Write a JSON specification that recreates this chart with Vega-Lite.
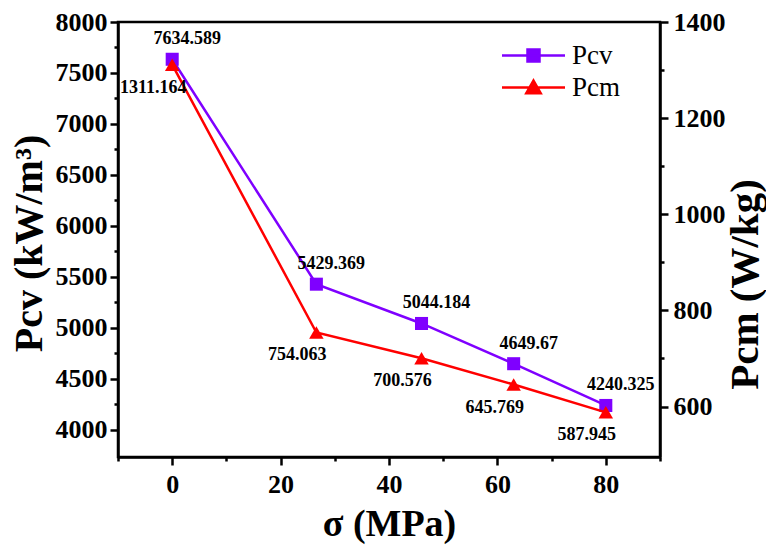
{
  "$schema": "https://vega.github.io/schema/vega-lite/v6.json",
  "width": 542,
  "height": 435,
  "autosize": {"type": "none"},
  "padding": {"left": 118, "top": 22, "right": 106, "bottom": 95},
  "background": "white",
  "config": {
    "view": {"stroke": "black", "strokeWidth": 2.5},
    "axis": {
      "domainColor": "black", "domainWidth": 2.5,
      "tickColor": "black", "tickWidth": 2.5,
      "labelFont": "Liberation Serif", "labelFontSize": 26, "labelFontWeight": "bold", "labelColor": "black",
      "titleFont": "Liberation Serif", "titleFontWeight": "bold", "titleColor": "black",
      "grid": false, "labelOverlap": false, "labelBound": false, "labelFlush": false
    }
  },
  "data": {
    "values": [
      {"sigma": 0, "series": "Pcv", "value": 7634.589},
      {"sigma": 26.6, "series": "Pcv", "value": 5429.369},
      {"sigma": 46, "series": "Pcv", "value": 5044.184},
      {"sigma": 63, "series": "Pcv", "value": 4649.67},
      {"sigma": 80, "series": "Pcv", "value": 4240.325},
      {"sigma": 0, "series": "Pcm", "value": 1311.164},
      {"sigma": 26.6, "series": "Pcm", "value": 754.063},
      {"sigma": 46, "series": "Pcm", "value": 700.576},
      {"sigma": 63, "series": "Pcm", "value": 645.769},
      {"sigma": 80, "series": "Pcm", "value": 587.945}
    ]
  },
  "encoding": {
    "x": {
      "field": "sigma", "type": "quantitative",
      "scale": {"domain": [-10, 90], "nice": false, "zero": false},
      "axis": {
        "title": "σ (MPa)", "titleFontSize": 38, "titlePadding": 8,
        "values": [-10, 0, 10, 20, 30, 40, 50, 60, 70, 80, 90],
        "labelExpr": "datum.value % 20 === 0 ? datum.label : ''",
        "tickSize": {"condition": {"test": "datum.value % 20 !== 0", "value": 4}, "value": 8},
        "labelPadding": 6
      }
    }
  },
  "layer": [
    {
      "transform": [{"filter": "datum.series === 'Pcv'"}],
      "encoding": {
        "y": {
          "field": "value", "type": "quantitative",
          "scale": {"domain": [3735, 8000], "nice": false, "zero": false},
          "axis": {
            "orient": "left", "title": "Pcv (kW/m³)", "titleFontSize": 40, "titlePadding": 6, "titleY": 221,
            "values": [4000, 4250, 4500, 4750, 5000, 5250, 5500, 5750, 6000, 6250, 6500, 6750, 7000, 7250, 7500, 7750, 8000],
            "format": "d",
            "labelExpr": "datum.value % 500 === 0 ? datum.label : ''",
            "tickSize": {"condition": {"test": "datum.value % 500 !== 0", "value": 4}, "value": 8},
            "labelPadding": 3
          }
        },
        "color": {
          "field": "series", "type": "nominal",
          "scale": {"domain": ["Pcv", "Pcm"], "range": ["#7F00FF", "#FF0000"]},
          "legend": {
            "orient": "none", "legendX": 402, "legendY": 20, "title": null,
            "labelFont": "Liberation Serif", "labelFontSize": 27, "labelFontWeight": "normal", "labelColor": "black",
            "symbolSize": 144, "labelOffset": 25, "rowPadding": 4,
            "encode": {
              "symbols": {
                "update": {
                  "shape": {"signal": "datum.value === 'Pcv' ? 'M-5.25,0H5.25M-1,-1H1V1H-1Z' : 'M-5.25,0H5.25M0,-1.15L1.2,0.95H-1.2Z'"},
                  "fill": {"signal": "datum.value === 'Pcv' ? '#7F00FF' : '#FF0000'"},
                  "stroke": {"signal": "datum.value === 'Pcv' ? '#7F00FF' : '#FF0000'"},
                  "strokeWidth": {"value": 2.5},
                  "opacity": {"value": 1},
                  "fillOpacity": {"value": 1},
                  "strokeOpacity": {"value": 1}
                }
              }
            }
          }
        }
      },
      "layer": [
        {"mark": {"type": "line", "strokeWidth": 2.5}},
        {"mark": {"type": "point", "shape": "square", "filled": true, "size": 170, "opacity": 1}},
        {
          "mark": {"type": "text", "font": "Liberation Serif", "fontSize": 18, "fontWeight": "bold", "dx": 15, "dy": -20, "align": "center", "baseline": "middle"},
          "encoding": {"text": {"field": "value", "type": "quantitative", "format": ".3~f"}, "color": {"value": "black"}}
        }
      ]
    },
    {
      "transform": [{"filter": "datum.series === 'Pcm'"}],
      "encoding": {
        "y": {
          "field": "value", "type": "quantitative",
          "scale": {"domain": [495, 1400], "nice": false, "zero": false},
          "axis": {
            "orient": "right", "title": "Pcm (W/kg)", "titleFontSize": 41, "titleAngle": -90, "titleBaseline": "top", "titlePadding": 0, "titleY": 262,
            "values": [600, 700, 800, 900, 1000, 1100, 1200, 1300, 1400],
            "format": "d",
            "labelExpr": "datum.value % 200 === 0 ? datum.label : ''",
            "tickSize": {"condition": {"test": "datum.value % 200 !== 0", "value": 4}, "value": 8},
            "labelPadding": 5
          }
        },
        "color": {"field": "series", "type": "nominal", "scale": {"domain": ["Pcv", "Pcm"], "range": ["#7F00FF", "#FF0000"]}}
      },
      "layer": [
        {"mark": {"type": "line", "strokeWidth": 2.5}},
        {"mark": {"type": "point", "shape": "triangle-up", "filled": true, "size": 210, "opacity": 1}},
        {
          "mark": {"type": "text", "font": "Liberation Serif", "fontSize": 18, "fontWeight": "bold", "dx": -19, "dy": 23, "align": "center", "baseline": "middle"},
          "encoding": {"text": {"field": "value", "type": "quantitative", "format": ".3~f"}, "color": {"value": "black"}}
        }
      ]
    }
  ],
  "resolve": {"scale": {"y": "independent"}}
}
